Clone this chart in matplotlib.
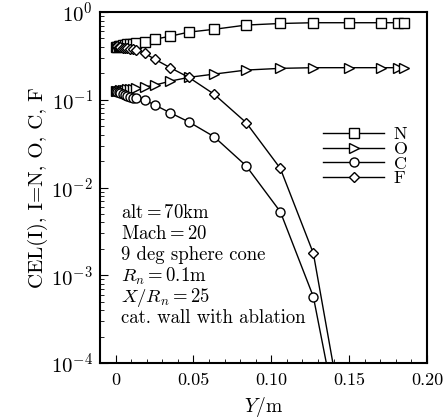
import matplotlib
matplotlib.use("Agg")
import matplotlib.pyplot as plt
from matplotlib.ticker import MultipleLocator, FixedLocator, LogLocator, NullFormatter

plt.rcParams['font.family'] = 'serif'
plt.rcParams['font.serif'] = ['cmr10', 'DejaVu Serif']
plt.rcParams['mathtext.fontset'] = 'cm'
plt.rcParams['axes.formatter.use_mathtext'] = True

# distance from wall (m)
y_pos = [0, 0.001, 0.002, 0.003, 0.0045, 0.006, 0.0075, 0.009, 0.011,
         0.0134, 0.0188, 0.0253, 0.0351, 0.047, 0.0632, 0.0838, 0.1058,
         0.127, 0.1498, 0.1703, 0.1812, 0.1855]

cel_N = [0.40, 0.40, 0.41, 0.41, 0.42, 0.42, 0.43, 0.43, 0.435,
         0.44, 0.46, 0.49, 0.53, 0.59, 0.635, 0.71, 0.74,
         0.755, 0.755, 0.755, 0.755, 0.755]
cel_O = [0.125, 0.125, 0.127, 0.128, 0.13, 0.13, 0.131, 0.132, 0.134,
         0.135, 0.14, 0.147, 0.163, 0.18, 0.196, 0.218, 0.228,
         0.232, 0.232, 0.232, 0.232, 0.232]
cel_C = [0.125, 0.124, 0.122, 0.12, 0.117, 0.114, 0.111, 0.108, 0.106,
         0.104, 0.099, 0.087, 0.071, 0.056, 0.038, 0.0177, 0.0053,
         5.7e-4, 4.9e-6, 1e-7, 1e-7, 1e-7]
cel_F = [0.41, 0.41, 0.40, 0.40, 0.39, 0.39, 0.385, 0.38, 0.375,
         0.369, 0.338, 0.289, 0.232, 0.18, 0.116, 0.055, 0.0165,
         0.00178, 9.5e-6, 1e-7, 1e-7, 1e-7]

series = [('N', cel_N, 's'), ('O', cel_O, '>'), ('C', cel_C, 'o'), ('F', cel_F, 'D')]

fig = plt.figure(figsize=(4.45, 4.2), dpi=100)
ax = fig.add_axes([0.2247, 0.1357, 0.7349, 0.8357])

for name, vals, mk in series:
    ms = 5.5 if mk == 'D' else 6.5
    ax.plot(y_pos, vals, color='black', lw=1, marker=mk, markersize=ms,
            markerfacecolor='white', markeredgecolor='black', markeredgewidth=1,
            label=name)

ax.set_yscale('log')
ax.set_xlim(-0.01, 0.2)
ax.set_ylim(1e-4, 1)
ax.xaxis.set_major_locator(FixedLocator([0, 0.05, 0.10, 0.15, 0.20]))
ax.set_xticklabels(['0', '0.05', '0.10', '0.15', '0.20'])
ax.xaxis.set_minor_locator(MultipleLocator(0.01))
ax.yaxis.set_minor_locator(LogLocator(base=10, subs=range(2, 10)))
ax.yaxis.set_minor_formatter(NullFormatter())
ax.tick_params(which='both', direction='in', top=False, right=False, labelsize=13)
ax.tick_params(axis='x', pad=7)
ax.tick_params(axis='y', labelsize=15, pad=5)
ax.tick_params(which='major', length=6)
ax.tick_params(which='minor', length=3)
for s in ax.spines.values():
    s.set_linewidth(1.5)

ax.set_xlabel('$Y$/m', fontsize=14, labelpad=5)
ax.set_ylabel('CEL(I), I=N, O, C, F', fontsize=15, labelpad=2)

ax.legend(loc='upper right', bbox_to_anchor=(0.99, 0.72), frameon=False,
          numpoints=1, handlelength=3.4, fontsize=13, labelspacing=-0.05,
          handletextpad=0.5)

notes = ['alt$=$70km', 'Mach$=$20', '9 deg sphere cone', '$R_n$$=$0.1m',
         '$X/R_n$$=$25', 'cat. wall with ablation']
note_y = [213, 234, 255, 276, 297, 318]
for txt, py in zip(notes, note_y):
    ax.text(0.065, (363 - py) / 351, txt, transform=ax.transAxes, fontsize=13.5,
            va='center', ha='left',
            bbox=dict(facecolor='white', edgecolor='none', pad=0.1))

fig.savefig('out.png', dpi=100)
